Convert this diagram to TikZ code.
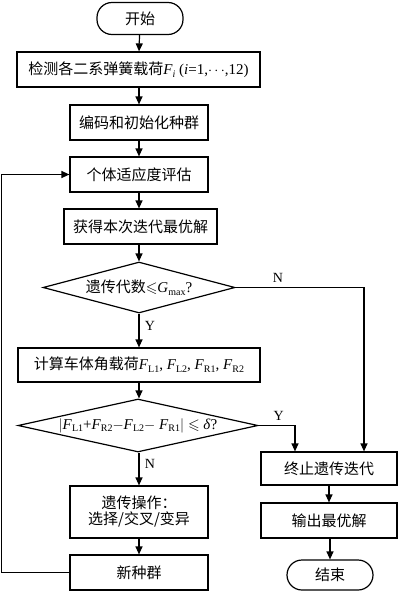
\documentclass[tikz,border=0pt]{standalone}
\usepackage{fontspec}
\usepackage{amssymb}
\setmainfont{Liberation Serif}
\newfontfamily\cjk{Noto Sans CJK SC}
\usetikzlibrary{arrows.meta,shapes.geometric,calc}
\newcommand\lowsub[1]{\raisebox{-0.4ex}{\fontsize{10}{10}\selectfont #1}}
\begin{document}
\begin{tikzpicture}[x=1pt,y=-1pt,
  every node/.style={font=\fontsize{15}{17}\selectfont},
  box/.style={draw,line width=1.2pt,inner sep=0pt,minimum width=138pt,minimum height=35pt,align=center},
  term/.style={draw,line width=1.2pt,inner sep=0pt,minimum width=86pt,minimum height=32pt,rounded corners=15pt},
  dia/.style={draw,line width=1.2pt,shape=diamond,inner sep=0pt},
  arr/.style={line width=1.2pt,-{Triangle[length=8pt,width=7pt]}},
  lbl/.style={font=\fontsize{14}{16}\selectfont}]
\fill[white] (0,0) rectangle (400,592);
\useasboundingbox (0,0) rectangle (400,592);
\node[term] (start) at (140,18.5) {\cjk 开始};
\node[box,minimum width=243pt] (detect) at (138.5,69.5) {{\cjk 检测各二系弹簧载荷}\textit{F}\lowsub{\textit{i}} (\textit{i}=1,$\cdots$,12)};
\node[box] (code) at (139,122.5) {\cjk 编码和初始化种群};
\node[box] (fit) at (139,174.5) {\cjk 个体适应度评估};
\node[box,minimum width=153pt] (best) at (140.5,226.5) {\cjk 获得本次迭代最优解};
\node[dia,minimum width=192pt,minimum height=51pt,label={center:{\cjk 遗传代数}$\leqslant$\textit{G}\lowsub{max}?}] (d1) at (139,287.5) {};
\node[box,minimum width=242pt,minimum height=34pt] (calc) at (139,365) {{\cjk 计算车体角载荷}\textit{F}\lowsub{L1}, \textit{F}\lowsub{L2}, \textit{F}\lowsub{R1}, \textit{F}\lowsub{R2}};
\node[dia,minimum width=240pt,minimum height=53pt,label={center:$|$\textit{F}\lowsub{L1}+\textit{F}\lowsub{R2}$-$\textit{F}\lowsub{L2}$-$ \textit{F}\lowsub{R1}$|\leqslant$ \textit{δ}?}] (d2) at (138,425.5) {};
\node[box,minimum height=52pt] (gen) at (139,512) {\cjk 遗传操作：\\[-1pt]\cjk 选择/交叉/变异};
\node[box] (newpop) at (139,572.5) {\cjk 新种群};
\node[box,minimum width=136pt,minimum height=33pt] (stop) at (329,468.5) {\cjk 终止遗传迭代};
\node[box,minimum width=136pt] (out) at (329,520.5) {\cjk 输出最优解};
\node[term,minimum height=30pt] (end) at (330,575) {\cjk 结束};
\draw[arr] (start) -- (detect);
\draw[arr] (detect.south -| code) -- (code);
\draw[arr] (code) -- (fit);
\draw[arr] (fit) -- (best.north -| fit);
\draw[arr] (best.south -| d1) -- (d1);
\draw[arr] (d1) -- node[lbl,right=2pt,pos=0.35]{Y} (calc.north -| d1);
\draw[arr] (calc) -- (d2.north -| calc);
\draw[arr] (d2.south -| gen) -- node[lbl,right=2pt,pos=0.35]{N} (gen);
\draw[arr] (gen) -- (newpop);
\draw[arr] (newpop.west) -- ++(-68,0) |- (fit.west);
\coordinate (nin) at ($(stop.north)+(35,0)$);
\coordinate (yin) at ($(stop.north)+(-34,0)$);
\draw[arr] (d1.east) -- node[lbl,above=1pt,pos=0.33]{N} (d1.east -| nin) -- (nin);
\draw[arr] (d2.east) -- node[lbl,above=1pt,pos=0.55]{Y} (d2.east -| yin) -- (yin);
\draw[arr] (stop) -- (out);
\draw[arr] (out.south -| end) -- (end);
\end{tikzpicture}
\end{document}
